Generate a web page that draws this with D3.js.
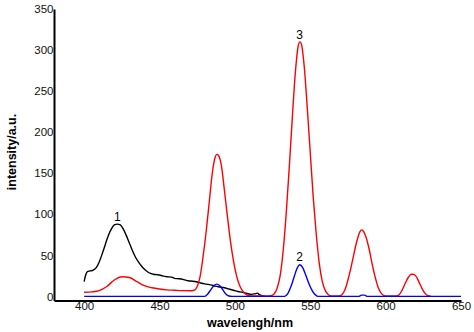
<!DOCTYPE html>
<html>
<head>
<meta charset="utf-8">
<script src="https://cdn.jsdelivr.net/npm/d3@7"></script>
<style>
  body { margin: 0; background: #fff; }
  svg { display: block; font-family: Arial, "Liberation Sans", sans-serif; }
</style>
</head>
<body>
<div id="chart"></div>
<script>
// spectra: [wavelength nm, intensity a.u.]
const curve1 = [
  [400, 18], [401, 26], [402, 30], [404, 31], [406, 32], [408, 35], [410, 42],
  [412, 52], [414, 63], [416, 74], [418, 82], [420, 87], [422, 88], [424, 87],
  [426, 82], [428, 74], [430, 65], [432, 56], [434, 48], [436, 42], [438, 37],
  [440, 33], [442, 30], [444, 28], [446, 27], [448, 26.5], [450, 26], [452, 25],
  [455, 24], [458, 23.5], [460, 22], [463, 21.5], [466, 20.5], [469, 19],
  [472, 18.5], [475, 17.5], [478, 16], [481, 15], [484, 14], [487, 12.5],
  [490, 11.5], [493, 10.5], [496, 9], [499, 7.5], [502, 6], [505, 5], [508, 3.5],
  [511, 2.5], [513, 3], [515, 4], [516, 2.5], [518, 1], [520, 0]
];

const curve3 = [
  [400, 5], [405, 5.5], [410, 7], [415, 12], [420, 20], [425, 24], [430, 23],
  [435, 18], [440, 13], [445, 10.5], [450, 9], [455, 8], [460, 7.5], [465, 7],
  [470, 6.8], [473, 7.5], [475, 12], [477, 25], [479, 50], [481, 80], [483, 115],
  [485, 150], [487, 170], [488, 173], [489, 172], [491, 160], [493, 130],
  [495, 98], [497, 68], [499, 44], [501, 26], [503, 14], [505, 7], [507, 3],
  [509, 1], [512, 0.5], [520, 0.5], [524, 1], [526, 3], [528, 10], [530, 25],
  [532, 55], [534, 100], [536, 155], [538, 215], [540, 270], [542, 305],
  [543, 310], [544, 308], [546, 280], [548, 230], [550, 175], [552, 120],
  [554, 75], [556, 40], [558, 18], [560, 7], [562, 2], [564, 0.5], [569, 0.5],
  [571, 2], [573, 8], [575, 20], [577, 35], [579, 52], [581, 68], [583, 79],
  [584, 81], [585, 80], [587, 72], [589, 58], [591, 40], [593, 24], [595, 11],
  [597, 4], [599, 1], [601, 0.5], [607, 0.5], [609, 2], [611, 8], [613, 16],
  [615, 23], [617, 27], [618, 27], [620, 25], [622, 18], [624, 10], [626, 4],
  [628, 1], [630, 0.3]
];

const curve2 = [
  [400, 0], [480, 0], [482, 3], [484, 8], [486, 13], [488, 15], [490, 13],
  [492, 8], [494, 3], [496, 0.5], [498, 0], [533, 0], [535, 3], [537, 11],
  [539, 22], [541, 33], [543, 38.5], [545, 35], [547, 26], [549, 16], [551, 8],
  [553, 2.5], [555, 0], [582, 0], [584, 1.5], [586, 1.5], [588, 0], [650, 0]
];

const xTicks = [400, 450, 500, 550, 600, 650];
const yTicks = [0, 50, 100, 150, 200, 250, 300, 350];

// curve number labels [text, wavelength, intensity]
const peakLabels = [["1", 422, 92], ["2", 543, 43], ["3", 543, 313]];

const width = 474, height = 332;

const svg = d3.select('#chart').append('svg')
    .attr('width', width)
    .attr('height', height);

const x = d3.scaleLinear().domain([380, 650]).range([54, 461]);
const y = d3.scaleLinear().domain([-5, 350]).range([300.5, 9]);

const line = d3.line()
    .x(d => x(d[0]))
    .y(d => y(d[1]))
    .curve(d3.curveMonotoneX);

// curves: black, red, then blue on top
const series = [
    { data: curve1, color: '#000000' },
    { data: curve3, color: '#ff0000' },
    { data: curve2, color: '#0000ff' }
];
svg.selectAll('.curve')
    .data(series)
    .enter().append('path')
    .attr('class', 'curve')
    .attr('d', d => line(d.data))
    .attr('fill', 'none')
    .attr('stroke', d => d.color)
    .attr('stroke-width', 1.4);

// axes
const xAxis = svg.append('g')
    .attr('transform', `translate(0,${y(-5)})`)
    .call(d3.axisBottom(x).tickValues(xTicks).tickSize(0).tickPadding(1.5));
const yAxis = svg.append('g')
    .attr('transform', `translate(${x(380)},0)`)
    .call(d3.axisLeft(y).tickValues(yTicks).tickSize(0).tickPadding(0.5));

[xAxis, yAxis].forEach(g => {
    g.select('.domain').attr('stroke', '#000').attr('stroke-width', 2);
    g.selectAll('text').attr('font-size', 11.5).attr('fill', '#111')
        .attr('font-family', 'Arial, "Liberation Sans", sans-serif');
});

// axis titles
svg.append('text')
    .attr('x', 250)
    .attr('y', 327)
    .attr('text-anchor', 'middle')
    .attr('font-weight', 'bold')
    .attr('font-size', 12.5)
    .text('wavelengh/nm');

svg.append('text')
    .attr('transform', 'translate(16,152) rotate(-90)')
    .attr('text-anchor', 'middle')
    .attr('font-weight', 'bold')
    .attr('font-size', 12.5)
    .text('intensity/a.u.');

// curve numbers
svg.selectAll('.peak-label')
    .data(peakLabels)
    .enter().append('text')
    .attr('class', 'peak-label')
    .attr('x', d => x(d[1]))
    .attr('y', d => y(d[2]))
    .attr('text-anchor', 'middle')
    .attr('font-size', 12)
    .text(d => d[0]);
</script>
</body>
</html>
